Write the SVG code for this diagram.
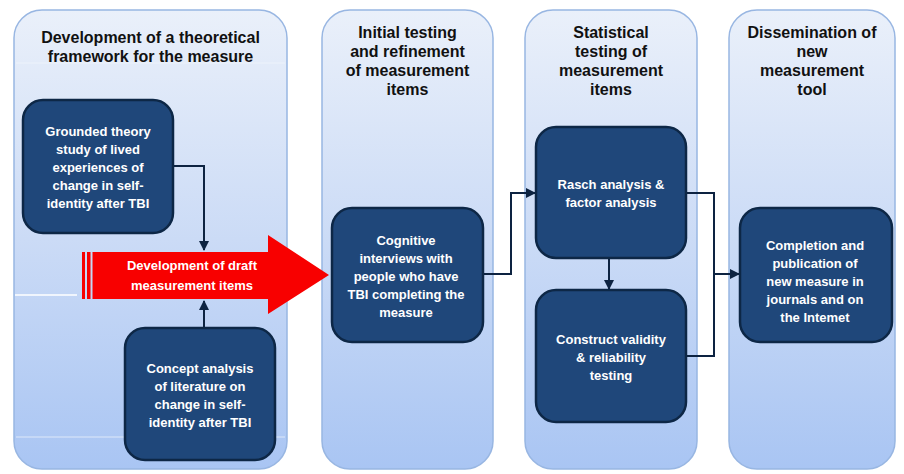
<svg xmlns="http://www.w3.org/2000/svg" width="904" height="474" viewBox="0 0 904 474">
<defs>
<linearGradient id="colg" x1="0" y1="0" x2="0" y2="1">
<stop offset="0" stop-color="#eaf0fa"/>
<stop offset="0.5" stop-color="#cbdbf6"/>
<stop offset="1" stop-color="#a9c5f3"/>
</linearGradient>
<marker id="ah" viewBox="0 0 10 10" refX="9" refY="5" markerWidth="5" markerHeight="5" markerUnits="strokeWidth" orient="auto">
<path d="M0,0 L10,5 L0,10 z" fill="#0d2341"/>
</marker>
<style>
.col{fill:url(#colg);stroke:#98b6e2;stroke-width:1.5}
.band{stroke:#f3f7fd;stroke-width:1;opacity:0.7}
.title{font-family:"Liberation Sans",Arial,sans-serif;font-weight:bold;font-size:16px;fill:#111;text-anchor:middle}
.node{fill:#1f477a;stroke:#0d2746;stroke-width:2.5}
.nt{font-family:"Liberation Sans",Arial,sans-serif;font-weight:bold;font-size:13px;fill:#fff;text-anchor:middle}
.conn{fill:none;stroke:#0d2341;stroke-width:2}
.red{fill:#f80000}
</style>
</defs>
<rect width="904" height="474" fill="#ffffff"/>
<g id="columns">
<rect class="col" x="14" y="10" width="273" height="459" rx="28"/>
<rect class="col" x="322" y="10" width="171" height="459" rx="28"/>
<rect class="col" x="525" y="10" width="172" height="459" rx="28"/>
<rect class="col" x="729" y="10" width="166" height="459" rx="28"/>
<line class="band" x1="16" y1="63" x2="285" y2="63"/>
<line class="band" x1="16" y1="437" x2="285" y2="437"/>
<line x1="15" y1="295" x2="77" y2="295" stroke="#ffffff" stroke-width="1.5"/>
<text class="title" x="150.5" y="43">Development of a theoretical</text>
<text class="title" x="150.5" y="62">framework for the measure</text>
<text class="title" x="407.5" y="38">Initial testing</text>
<text class="title" x="407.5" y="57">and refinement</text>
<text class="title" x="407.5" y="76">of measurement</text>
<text class="title" x="407.5" y="95">items</text>
<text class="title" x="611" y="38">Statistical</text>
<text class="title" x="611" y="57">testing of</text>
<text class="title" x="611" y="76">measurement</text>
<text class="title" x="611" y="95">items</text>
<text class="title" x="812" y="38">Dissemination of</text>
<text class="title" x="812" y="57">new</text>
<text class="title" x="812" y="76">measurement</text>
<text class="title" x="812" y="95">tool</text>
</g>
<g id="connectors">
<path class="conn" d="M173,166 H204 V250" marker-end="url(#ah)"/>
<path class="conn" d="M204,328 V301" marker-end="url(#ah)"/>
<path class="conn" d="M483,274 H511 V193 H535" marker-end="url(#ah)"/>
<path class="conn" d="M609,258 V289" marker-end="url(#ah)"/>
<path class="conn" d="M686,193 H714 V356 H686"/>
<path class="conn" d="M714,274 H739" marker-end="url(#ah)"/>
</g>
<g id="draft-arrow">
<rect class="red" x="82" y="252" width="3" height="47"/>
<rect class="red" x="87" y="252" width="3.5" height="47"/>
<polygon class="red" points="92.5,252 268,252 268,235 329,275 268,314 268,299 92.5,299"/>
<text class="nt" x="192" y="270">Development of draft</text>
<text class="nt" x="192" y="290">measurement items</text>
</g>
<g id="node-grounded">
<rect class="node" x="23" y="100" width="150" height="133" rx="20"/>
<text class="nt" x="98" y="136">Grounded theory</text>
<text class="nt" x="98" y="154">study of lived</text>
<text class="nt" x="98" y="172">experiences of</text>
<text class="nt" x="98" y="190">change in self-</text>
<text class="nt" x="98" y="208">identity after TBI</text>
</g>
<g id="node-concept">
<rect class="node" x="125" y="328" width="150" height="132" rx="20"/>
<text class="nt" x="200" y="373">Concept analysis</text>
<text class="nt" x="200" y="391">of literature on</text>
<text class="nt" x="200" y="409">change in self-</text>
<text class="nt" x="200" y="427">identity after TBI</text>
</g>
<g id="node-cognitive">
<rect class="node" x="332" y="208" width="151" height="134" rx="20"/>
<text class="nt" x="406" y="245">Cognitive</text>
<text class="nt" x="406" y="263">interviews with</text>
<text class="nt" x="406" y="281">people who have</text>
<text class="nt" x="406" y="299">TBI completing the</text>
<text class="nt" x="406" y="317">measure</text>
</g>
<g id="node-rasch">
<rect class="node" x="536" y="127" width="150" height="131" rx="20"/>
<text class="nt" x="611" y="189">Rasch analysis &amp;</text>
<text class="nt" x="611" y="207">factor analysis</text>
</g>
<g id="node-construct">
<rect class="node" x="536" y="290" width="150" height="132" rx="20"/>
<text class="nt" x="611" y="344">Construct validity</text>
<text class="nt" x="611" y="362">&amp; reliability</text>
<text class="nt" x="611" y="380">testing</text>
</g>
<g id="node-completion">
<rect class="node" x="740" y="208" width="152" height="134" rx="20"/>
<text class="nt" x="815" y="250">Completion and</text>
<text class="nt" x="815" y="268">publication of</text>
<text class="nt" x="815" y="286">new measure in</text>
<text class="nt" x="815" y="304">journals and on</text>
<text class="nt" x="815" y="322">the Intemet</text>
</g>
</svg>
